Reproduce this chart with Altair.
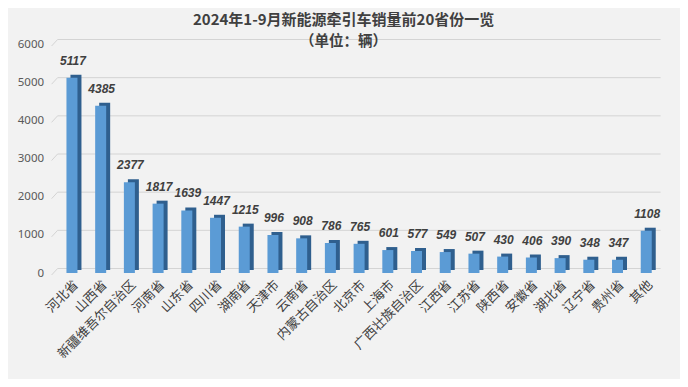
import altair as alt
import pandas as pd

provinces = ["河北省", "山西省", "新疆维吾尔自治区", "河南省", "山东省", "四川省", "湖南省",
             "天津市", "云南省", "内蒙古自治区", "北京市", "上海市", "广西壮族自治区", "江西省",
             "江苏省", "陕西省", "安徽省", "湖北省", "辽宁省", "贵州省", "其他"]
sales = [5117, 4385, 2377, 1817, 1639, 1447, 1215, 996, 908, 786, 765, 601, 577, 549,
         507, 430, 406, 390, 348, 347, 1108]
y_ticks = [0, 1000, 2000, 3000, 4000, 5000, 6000]
title_text = "2024年1-9月新能源牵引车销量前20省份一览"
subtitle_text = "（单位：辆）"

df = pd.DataFrame({"province": provinces, "value": sales})
grid_df = pd.DataFrame({"v": y_ticks})
title_df = pd.DataFrame({"t": [title_text], "s": [subtitle_text]})

yscale = alt.Scale(domain=[0, 6000], nice=False)
yaxis = alt.Axis(values=y_ticks, grid=False, domain=False, ticks=False, format="d",
                 labelOverlap=False, labelFontSize=11.5, labelColor="#595959",
                 labelFont="Noto Sans", labelPadding=14)
xaxis = alt.Axis(labelAngle=-45, labelFontSize=13, labelColor="#404040",
                 labelFont="Noto Sans CJK SC", domain=False, ticks=False, labelPadding=5)
xscale = alt.Scale(paddingInner=0, paddingOuter=0)

grid = alt.Chart(grid_df).mark_rule(color="#d4d4d4", strokeWidth=1, yOffset=-4.5).encode(
    y=alt.Y("v:Q", scale=yscale, title=None, axis=yaxis),
)
diag = alt.Chart(grid_df).mark_rule(color="#d4d4d4", strokeWidth=1, yOffset=2, y2Offset=-4.5).encode(
    x=alt.value(-6), x2=alt.value(0),
    y=alt.Y("v:Q", scale=yscale, title=None, axis=yaxis), y2="v:Q",
)

side = alt.Chart(df).mark_bar(color="#2f5f8e", size=11, xOffset=4, yOffset=-3, y2Offset=-3).encode(
    x=alt.X("province:N", sort=None, title=None, scale=xscale, axis=xaxis),
    y=alt.Y("value:Q", scale=yscale, title=None, axis=yaxis),
)
front = alt.Chart(df).mark_bar(color="#5b9bd5", size=11).encode(
    x=alt.X("province:N", sort=None, title=None, scale=xscale, axis=xaxis),
    y=alt.Y("value:Q", scale=yscale, title=None, axis=yaxis),
)
labels = alt.Chart(df).mark_text(font="Liberation Sans", fontSize=12, fontWeight="bold",
                                 fontStyle="italic", color="#404040", baseline="bottom",
                                 dy=-10, dx=1).encode(
    x=alt.X("province:N", sort=None, title=None, scale=xscale, axis=xaxis),
    y=alt.Y("value:Q", scale=yscale, title=None, axis=yaxis),
    text="value:Q",
)
title = alt.Chart(title_df).mark_text(font="Noto Sans CJK SC", fontSize=15, fontWeight="bold",
                                      color="#404040").encode(
    x=alt.value(286), y=alt.value(-24.5), text="t:N")
subtitle = alt.Chart(title_df).mark_text(font="Noto Sans CJK SC", fontSize=14.5, fontWeight="bold",
                                         color="#404040").encode(
    x=alt.value(286), y=alt.value(-2.5), text="s:N")

chart = alt.layer(grid, diag, side, front, labels, title, subtitle).properties(
    width=603, height=229,
    autosize=alt.AutoSizeParams(type="none"),
    padding={"left": 49.6, "top": 36, "right": 19.4, "bottom": 106},
    background="#f2f2f2",
).configure_view(stroke=None)

chart.save("out.html", embed_options={"renderer": "svg", "actions": False})
